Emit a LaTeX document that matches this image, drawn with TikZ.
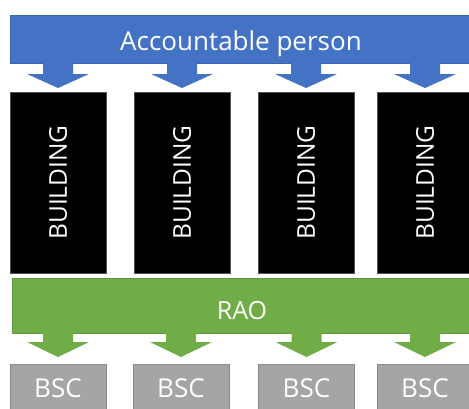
\documentclass[tikz,border=0pt]{standalone}
\usepackage{fontspec}
\setmainfont{Open Sans}
\usetikzlibrary{calc}
\definecolor{accblue}{HTML}{4472C4}
\definecolor{accblueline}{HTML}{3A62AD}
\definecolor{raogreen}{HTML}{70AD47}
\definecolor{raogreenline}{HTML}{5E963A}
\definecolor{bscgray}{HTML}{A5A5A5}
\definecolor{bscgrayline}{HTML}{8A8A8A}
\definecolor{bldline}{HTML}{555555}
\newcommand{\blockarrow}[4]{% #1 style, #2 top point, #3 stem length, #4 tip depth
  \fill[#1] ($(#2)+(-15,-1)$) -- ($(#2)+(15,-1)$) -- ($(#2)+(15,#3)$) -- ($(#2)+(31,#3)$)
    -- ($(#2)+(0,#4)$) -- ($(#2)+(-31,#3)$) -- ($(#2)+(-15,#3)$) -- cycle;}
\begin{document}
\begin{tikzpicture}[x=1pt,y=-1pt,
  every node/.style={inner sep=0pt, outer sep=0pt, text=white},
  bluebar/.style={rectangle, fill=accblue, draw=accblueline, line width=0.6pt},
  greenbar/.style={rectangle, fill=raogreen, draw=raogreenline, line width=0.6pt},
  building/.style={rectangle, fill=black, draw=bldline, line width=0.6pt,
    minimum width=96pt, minimum height=181pt, font=\fontsize{24.5}{28}\selectfont},
  bscbox/.style={rectangle, fill=bscgray, draw=bscgrayline, line width=0.6pt,
    minimum width=96pt, minimum height=48pt, text height=18pt, text depth=0pt,
    font=\fontsize{26}{30}\selectfont},
  bluearrow/.style={fill=accblue},
  greenarrow/.style={fill=raogreen}]
\useasboundingbox (0,0) rectangle (469,408);
\fill[white] (0,0) rectangle (469,408);
\begin{scope}
\clip (0,0) rectangle (469,408);
% top bar
\node[bluebar, minimum width=462pt, minimum height=48pt, text height=22pt, text depth=0pt,
  font=\fontsize{26}{30}\selectfont] (acc) at (241,39) {Accountable person};
% buildings
\node[building] (b1) at (58,182.5) {\rotatebox{90}{BUILDING}};
\node[building] (b2) at (182,182.5) {\rotatebox{90}{BUILDING}};
\node[building] (b3) at (306,182.5) {\rotatebox{90}{BUILDING}};
\node[building] (b4) at (425,182.5) {\rotatebox{90}{BUILDING}};
% RAO bar
\node[greenbar, minimum width=460pt, minimum height=55pt, text height=27pt, text depth=0pt,
  font=\fontsize{25}{30}\selectfont] (rao) at (242,305.5) {RAO};
% BSC boxes
\node[bscbox] (s1) at (58,388) {BSC};
\node[bscbox] (s2) at (181,388) {BSC};
\node[bscbox] (s3) at (306.5,388) {BSC};
\node[bscbox] (s4) at (425,388) {BSC};
% arrows
\foreach \b in {b1,b2,b3,b4}{\blockarrow{bluearrow}{acc.south -| \b.center}{11}{25}}
\foreach \s in {s1,s2,s3,s4}{\blockarrow{greenarrow}{rao.south -| \s.center}{9}{24}}
\end{scope}
\end{tikzpicture}
\end{document}
